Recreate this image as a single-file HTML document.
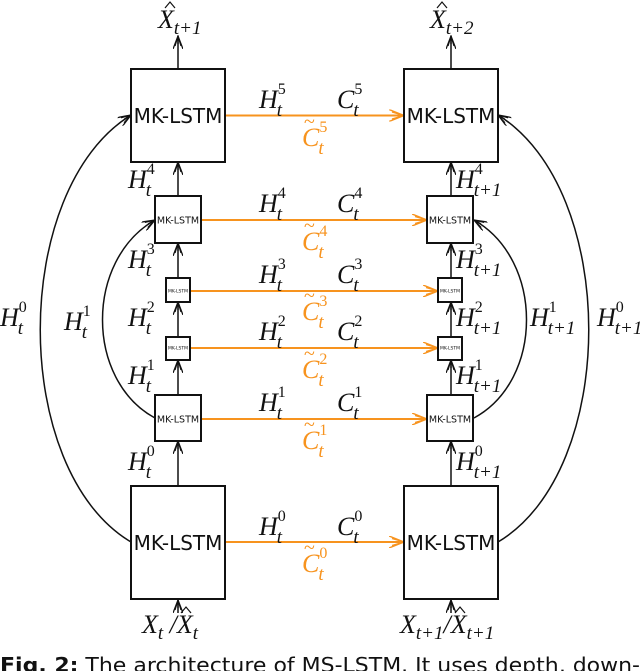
<!DOCTYPE html>
<html><head><meta charset="utf-8"><style>
html,body{margin:0;padding:0;background:#fff;width:640px;height:671px;overflow:hidden}
svg{display:block}
.m{font-family:"Liberation Serif",serif;font-style:italic;font-size:26px;fill:#111}
.p{font-size:16px;font-style:normal}
.q{font-size:19px}
.o{fill:#f7931e}
.tl{font-size:20px;font-style:normal}
.b{font-family:"DejaVu Sans","Liberation Sans",sans-serif;fill:#111}
</style></head><body>
<svg width="640" height="671" viewBox="0 0 640 671" xmlns="http://www.w3.org/2000/svg">
<defs>
<marker id="ak" markerWidth="14" markerHeight="10" refX="13" refY="5" orient="auto" markerUnits="userSpaceOnUse">
<path d="M0,0 L13,5 L0,10 M3,2 L13,5 L3,8 M5,5 L13,5" fill="none" stroke="#111" stroke-width="1.3"/>
</marker>
<marker id="ao" markerWidth="16" markerHeight="12" refX="15" refY="6" orient="auto" markerUnits="userSpaceOnUse">
<path d="M0,0 L15,6 L0,12 M3,2.5 L15,6 L3,9.5 M6,6 L15,6" fill="none" stroke="#f7931e" stroke-width="1.4"/>
</marker>
</defs>
<g fill="none" stroke="#111" stroke-width="1.5">
<path d="M131,542 C10,470 10,190 131,115" marker-end="url(#ak)"/>
<path d="M155,418 C85,380 85,260 155,220" marker-end="url(#ak)"/>
<path d="M498,542 C619,470 619,190 498,115" marker-end="url(#ak)"/>
<path d="M474,418 C544,380 544,260 474,220" marker-end="url(#ak)"/>
<path d="M178,69 L178,36" marker-end="url(#ak)"/>
<path d="M178,196 L178,162" marker-end="url(#ak)"/>
<path d="M178,278 L178,243" marker-end="url(#ak)"/>
<path d="M178,337 L178,302" marker-end="url(#ak)"/>
<path d="M178,395 L178,360" marker-end="url(#ak)"/>
<path d="M178,486 L178,441" marker-end="url(#ak)"/>
<path d="M178,613 L178,600" marker-end="url(#ak)"/>
<path d="M451,69 L451,36" marker-end="url(#ak)"/>
<path d="M451,196 L451,162" marker-end="url(#ak)"/>
<path d="M451,278 L451,243" marker-end="url(#ak)"/>
<path d="M451,337 L451,302" marker-end="url(#ak)"/>
<path d="M451,395 L451,360" marker-end="url(#ak)"/>
<path d="M451,486 L451,441" marker-end="url(#ak)"/>
<path d="M451,613 L451,600" marker-end="url(#ak)"/>
<path d="M165,8 L170,2 L175,8" stroke-width="1.2"/>
<path d="M437,8 L442,2 L447,8" stroke-width="1.2"/>
<path d="M181,613 L186,607 L191,613" stroke-width="1.2"/>
<path d="M455,613 L460,607 L465,613" stroke-width="1.2"/>
</g>
<g stroke="#f7931e" stroke-width="2" fill="none">
<path d="M225,115.5 L404,115.5" marker-end="url(#ao)"/>
<path d="M201,220 L427,220" marker-end="url(#ao)"/>
<path d="M190,291 L438,291" marker-end="url(#ao)"/>
<path d="M190,348 L438,348" marker-end="url(#ao)"/>
<path d="M201,419 L427,419" marker-end="url(#ao)"/>
<path d="M225,542 L404,542" marker-end="url(#ao)"/>
</g>
<g fill="#fff" stroke="#111" stroke-width="2">
<rect x="131" y="69" width="94" height="93"/>
<rect x="404" y="69" width="94" height="93"/>
<rect x="155" y="196" width="46" height="47"/>
<rect x="427" y="196" width="46" height="47"/>
<rect x="166" y="278" width="24" height="24"/>
<rect x="438" y="278" width="24" height="24"/>
<rect x="166" y="337" width="24" height="23"/>
<rect x="438" y="337" width="24" height="23"/>
<rect x="155" y="395" width="46" height="46"/>
<rect x="427" y="395" width="46" height="46"/>
<rect x="131" y="486" width="94" height="113"/>
<rect x="404" y="486" width="94" height="113"/>
</g>
<g class="b" text-anchor="middle">
<text x="178" y="123" font-size="20">MK-LSTM</text>
<text x="451" y="123" font-size="20">MK-LSTM</text>
<text x="178" y="223.5" font-size="9.5">MK-LSTM</text>
<text x="450" y="223.5" font-size="9.5">MK-LSTM</text>
<text x="178" y="292.5" font-size="4.5">MK-LSTM</text>
<text x="450" y="292.5" font-size="4.5">MK-LSTM</text>
<text x="178" y="349.5" font-size="4.5">MK-LSTM</text>
<text x="450" y="349.5" font-size="4.5">MK-LSTM</text>
<text x="178" y="422.5" font-size="9.5">MK-LSTM</text>
<text x="450" y="422.5" font-size="9.5">MK-LSTM</text>
<text x="178" y="550" font-size="20">MK-LSTM</text>
<text x="451" y="550" font-size="20">MK-LSTM</text>
</g>
<g class="m">
<text x="158" y="28">X<tspan class="q" dy="6">t+1</tspan></text>
<text x="430" y="28">X<tspan class="q" dy="6">t+2</tspan></text>
<text x="142" y="633">X<tspan class="q" dy="6">t</tspan><tspan dy="-6"> /X</tspan><tspan class="q" dy="6">t</tspan></text>
<text x="400" y="633">X<tspan class="q" dy="6">t+1</tspan><tspan dy="-6">/X</tspan><tspan class="q" dy="6">t+1</tspan></text>

<text x="259" y="108">H<tspan class="p" dy="-14">5</tspan><tspan class="q" dx="-9" dy="22">t</tspan></text>
<text x="337" y="108">C<tspan class="p" dy="-14">5</tspan><tspan class="q" dx="-9" dy="22">t</tspan></text>
<text x="302" y="146" class="o">C<tspan class="p" dy="-14">5</tspan><tspan class="q" dx="-9" dy="22">t</tspan></text>
<text x="304" y="128" class="o tl">~</text>

<text x="259" y="212">H<tspan class="p" dy="-14">4</tspan><tspan class="q" dx="-9" dy="22">t</tspan></text>
<text x="337" y="212">C<tspan class="p" dy="-14">4</tspan><tspan class="q" dx="-9" dy="22">t</tspan></text>
<text x="302" y="250" class="o">C<tspan class="p" dy="-14">4</tspan><tspan class="q" dx="-9" dy="22">t</tspan></text>
<text x="304" y="232" class="o tl">~</text>

<text x="259" y="283">H<tspan class="p" dy="-14">3</tspan><tspan class="q" dx="-9" dy="22">t</tspan></text>
<text x="337" y="283">C<tspan class="p" dy="-14">3</tspan><tspan class="q" dx="-9" dy="22">t</tspan></text>
<text x="302" y="320" class="o">C<tspan class="p" dy="-14">3</tspan><tspan class="q" dx="-9" dy="22">t</tspan></text>
<text x="304" y="302" class="o tl">~</text>

<text x="259" y="340">H<tspan class="p" dy="-14">2</tspan><tspan class="q" dx="-9" dy="22">t</tspan></text>
<text x="337" y="340">C<tspan class="p" dy="-14">2</tspan><tspan class="q" dx="-9" dy="22">t</tspan></text>
<text x="302" y="378" class="o">C<tspan class="p" dy="-14">2</tspan><tspan class="q" dx="-9" dy="22">t</tspan></text>
<text x="304" y="360" class="o tl">~</text>

<text x="259" y="411">H<tspan class="p" dy="-14">1</tspan><tspan class="q" dx="-9" dy="22">t</tspan></text>
<text x="337" y="411">C<tspan class="p" dy="-14">1</tspan><tspan class="q" dx="-9" dy="22">t</tspan></text>
<text x="302" y="449" class="o">C<tspan class="p" dy="-14">1</tspan><tspan class="q" dx="-9" dy="22">t</tspan></text>
<text x="304" y="431" class="o tl">~</text>

<text x="259" y="535">H<tspan class="p" dy="-14">0</tspan><tspan class="q" dx="-9" dy="22">t</tspan></text>
<text x="337" y="535">C<tspan class="p" dy="-14">0</tspan><tspan class="q" dx="-9" dy="22">t</tspan></text>
<text x="302" y="572" class="o">C<tspan class="p" dy="-14">0</tspan><tspan class="q" dx="-9" dy="22">t</tspan></text>
<text x="304" y="554" class="o tl">~</text>

<text x="128" y="188">H<tspan class="p" dy="-14">4</tspan><tspan class="q" dx="-9" dy="22">t</tspan></text>
<text x="128" y="268">H<tspan class="p" dy="-14">3</tspan><tspan class="q" dx="-9" dy="22">t</tspan></text>
<text x="128" y="326">H<tspan class="p" dy="-14">2</tspan><tspan class="q" dx="-9" dy="22">t</tspan></text>
<text x="128" y="384">H<tspan class="p" dy="-14">1</tspan><tspan class="q" dx="-9" dy="22">t</tspan></text>
<text x="128" y="470">H<tspan class="p" dy="-14">0</tspan><tspan class="q" dx="-9" dy="22">t</tspan></text>

<text x="456" y="188">H<tspan class="p" dy="-14">4</tspan><tspan class="q" dx="-9" dy="22">t+1</tspan></text>
<text x="456" y="268">H<tspan class="p" dy="-14">3</tspan><tspan class="q" dx="-9" dy="22">t+1</tspan></text>
<text x="456" y="326">H<tspan class="p" dy="-14">2</tspan><tspan class="q" dx="-9" dy="22">t+1</tspan></text>
<text x="456" y="384">H<tspan class="p" dy="-14">1</tspan><tspan class="q" dx="-9" dy="22">t+1</tspan></text>
<text x="456" y="470">H<tspan class="p" dy="-14">0</tspan><tspan class="q" dx="-9" dy="22">t+1</tspan></text>

<text x="0" y="326">H<tspan class="p" dy="-14">0</tspan><tspan class="q" dx="-9" dy="22">t</tspan></text>
<text x="64" y="330">H<tspan class="p" dy="-14">1</tspan><tspan class="q" dx="-9" dy="22">t</tspan></text>
<text x="530" y="326">H<tspan class="p" dy="-14">1</tspan><tspan class="q" dx="-9" dy="22">t+1</tspan></text>
<text x="597" y="326">H<tspan class="p" dy="-14">0</tspan><tspan class="q" dx="-9" dy="22">t+1</tspan></text>
</g>
<text x="0" y="672" font-family="DejaVu Sans, Liberation Sans, sans-serif" font-size="20" fill="#111" textLength="640" lengthAdjust="spacingAndGlyphs"><tspan font-weight="bold">Fig. 2:</tspan> The architecture of MS-LSTM. It uses depth, down-</text>
</svg>
</body></html>
